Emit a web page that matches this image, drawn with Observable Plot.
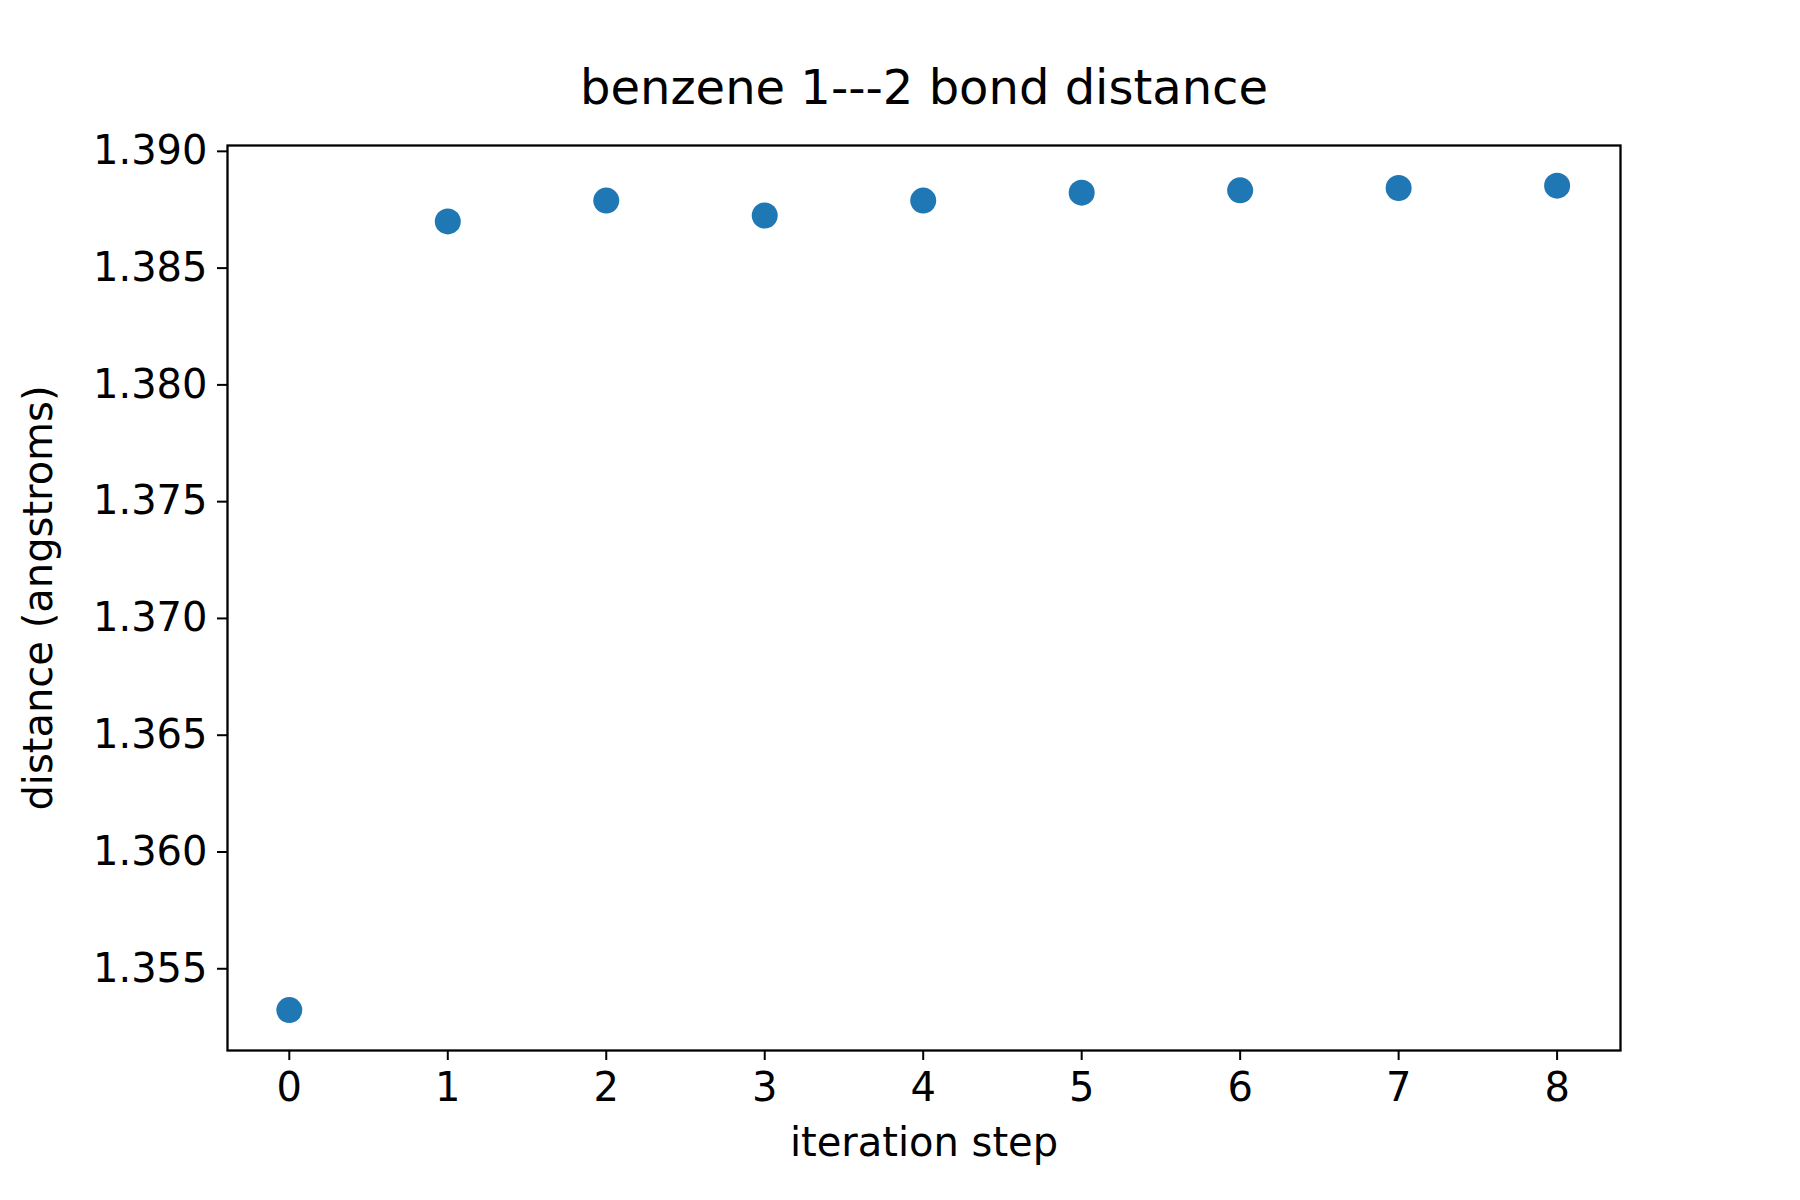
<!DOCTYPE html>
<html>
<head>
<meta charset="utf-8">
<script src="https://cdn.jsdelivr.net/npm/d3@7"></script>
<script src="https://cdn.jsdelivr.net/npm/@observablehq/plot@0.6"></script>
<style>
  body { margin: 0; background: #fff; }
  svg { font-family: "DejaVu Sans", sans-serif; }
</style>
</head>
<body>
<div id="chart"></div>
<script>
// iteration steps and bond distances
const steps = [0, 1, 2, 3, 4, 5, 6, 7, 8]
const distances = [1.35323, 1.38700, 1.38789, 1.38725, 1.38789, 1.38823, 1.38833, 1.38843, 1.38853]
const yTicks = [1.355, 1.360, 1.365, 1.370, 1.375, 1.380, 1.385, 1.390]

const data = steps.map((s, i) => ({ step: s, distance: distances[i] }))

let chart = Plot.plot({
  width: 1800,
  height: 1200,
  marginLeft: 227,
  marginRight: 180,
  marginTop: 145,
  marginBottom: 150,
  style: { fontSize: '40px', color: '#000', background: '#fff' },
  x: { domain: [-0.39, 8.40] },
  y: { domain: [1.3515, 1.39025] },
  marks: [
    Plot.frame({ stroke: '#000', strokeWidth: 2.3 }),
    Plot.axisX(steps, { tickSize: 10, tickPadding: 12, tickFormat: 'd', label: null, strokeWidth: 2, fontSize: 40 }),
    Plot.axisY(yTicks, { tickSize: 10, tickPadding: 10, tickFormat: '.3f', label: null, strokeWidth: 2, fontSize: 40 }),
    Plot.dot(data, { x: 'step', y: 'distance', r: 13, fill: '#1f77b4' }),
    Plot.text(['benzene 1---2 bond distance'], { frameAnchor: 'top', dy: -42, fontSize: 48, lineAnchor: 'bottom' }),
    Plot.text(['iteration step'], { frameAnchor: 'bottom', dy: 105, fontSize: 40 }),
    Plot.text(['distance (angstroms)'], { frameAnchor: 'left', dx: -188, rotate: -90, textAnchor: 'middle', fontSize: 40 }),
  ],
})
d3.select('#chart').append(() => chart)
</script>
</body>
</html>
